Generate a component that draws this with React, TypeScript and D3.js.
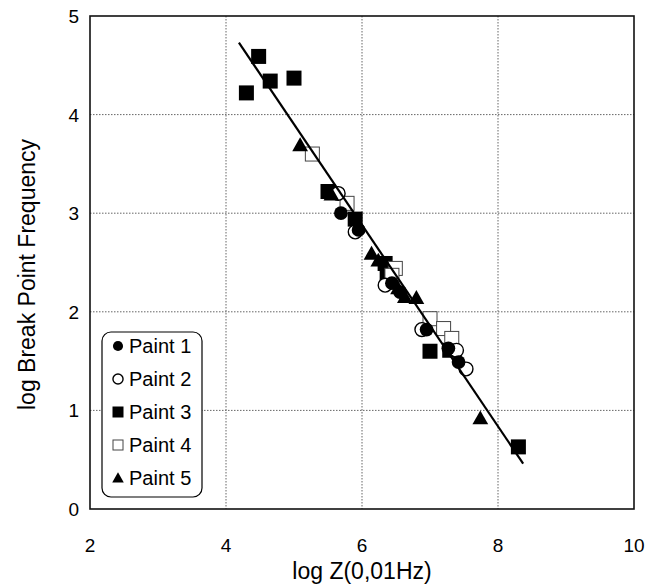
import React from 'react';
import * as d3 from 'd3';

// series values: [log Z, log break point frequency]
const paint1: [number, number][] = [
    [5.69, 3.0], [5.95, 2.83], [6.44, 2.29], [6.56, 2.2], [6.95, 1.82], [7.27, 1.63], [7.42, 1.49],
];
const paint2: [number, number][] = [
    [5.65, 3.2], [5.9, 2.81], [6.34, 2.27], [6.88, 1.82], [7.39, 1.61], [7.53, 1.42],
];
const paint3: [number, number][] = [
    [4.48, 4.59], [4.65, 4.34], [4.3, 4.22], [5.0, 4.37], [5.5, 3.22], [5.9, 2.94],
    [6.34, 2.49], [6.37, 2.39], [7.0, 1.6], [7.29, 1.61], [8.3, 0.63],
];
const paint4: [number, number][] = [
    [5.27, 3.6], [5.78, 3.1], [6.49, 2.44], [6.44, 2.37], [7.0, 1.93], [7.2, 1.83], [7.32, 1.73],
];
const paint5: [number, number][] = [
    [5.09, 3.69], [5.55, 3.19], [6.14, 2.59], [6.24, 2.52], [6.53, 2.24], [6.63, 2.15], [6.8, 2.14], [7.74, 0.92],
];
const fitLine: [number, number][] = [[4.19, 4.73], [8.37, 0.46]];

const xTicks = [2, 4, 6, 8, 10];
const yTicks = [0, 1, 2, 3, 4, 5];
const legendLabels = ['Paint 1', 'Paint 2', 'Paint 3', 'Paint 4', 'Paint 5'];

const W = 648;
const H = 585;
const left = 90, right = 634, top = 16, bottom = 509;
const font = 'Arial, "Liberation Sans", Helvetica, sans-serif';

type Kind = 'fcircle' | 'ocircle' | 'fsquare' | 'osquare' | 'triangle';

const Marker = ({ kind, x, y, s }: { kind: Kind; x: number; y: number; s: number }) => {
    const h = s / 2;
    if (kind === 'fcircle') return <circle cx={x} cy={y} r={h * 0.92} fill="#000" />;
    if (kind === 'ocircle') return <circle cx={x} cy={y} r={h * 0.92} fill="#fff" stroke="#000" strokeWidth={1.4} />;
    if (kind === 'fsquare') return <rect x={x - h} y={y - h} width={s} height={s} fill="#000" />;
    if (kind === 'osquare') return <rect x={x - h + 0.5} y={y - h + 0.5} width={s - 1} height={s - 1} fill="#fff" stroke="#444" strokeWidth={1} />;
    const path = d3.path();
    path.moveTo(x, y - h * 1.05);
    path.lineTo(x + h * 1.05, y + h * 0.8);
    path.lineTo(x - h * 1.05, y + h * 0.8);
    path.closePath();
    return <path d={path.toString()} fill="#000" />;
};

const App = () => {
    const xScale = d3.scaleLinear().domain([2, 10]).range([left, right]);
    const yScale = d3.scaleLinear().domain([0, 5]).range([bottom, top]);
    const line = d3.line<[number, number]>().x(d => xScale(d[0])).y(d => yScale(d[1]));

    const series: { kind: Kind; data: [number, number][] }[] = [
        { kind: 'fsquare', data: paint3 },
        { kind: 'osquare', data: paint4 },
        { kind: 'ocircle', data: paint2 },
        { kind: 'fcircle', data: paint1 },
        { kind: 'triangle', data: paint5 },
    ];
    const legendKinds: Kind[] = ['fcircle', 'ocircle', 'fsquare', 'osquare', 'triangle'];

    return (
        <svg width={W} height={H} style={{ position: 'absolute', left: 0, top: 0, background: '#fff' }} fontFamily={font}>
            <rect width={W} height={H} fill="#fff" />
            {/* grid */}
            {xTicks.slice(1, -1).map(t => (
                <line key={'gx' + t} x1={xScale(t)} x2={xScale(t)} y1={top} y2={bottom} stroke="#666" strokeWidth={1} strokeDasharray="1.5,1.5" />
            ))}
            {yTicks.slice(1, -1).map(t => (
                <line key={'gy' + t} x1={left} x2={right} y1={yScale(t)} y2={yScale(t)} stroke="#666" strokeWidth={1} strokeDasharray="1.5,1.5" />
            ))}
            {/* markers */}
            {series.map(s => s.data.map((d, i) => (
                <Marker key={s.kind + i} kind={s.kind} x={xScale(d[0])} y={yScale(d[1])} s={15} />
            )))}
            {/* fitted line */}
            <path d={line(fitLine) ?? ''} fill="none" stroke="#000" strokeWidth={2.2} />
            {/* frame */}
            <rect x={left} y={top} width={right - left} height={bottom - top} fill="none" stroke="#111" strokeWidth={1.6} />
            {/* tick labels */}
            {xTicks.map(t => (
                <text key={'tx' + t} x={xScale(t)} y={552} textAnchor="middle" fontSize={19}>{t}</text>
            ))}
            {yTicks.map(t => (
                <text key={'ty' + t} x={left - 11} y={yScale(t) + 7} textAnchor="end" fontSize={19}>{t}</text>
            ))}
            {/* axis titles */}
            <text x={(left + right) / 2} y={579} textAnchor="middle" fontSize={23}>log Z(0,01Hz)</text>
            <text transform={`translate(35,${(top + bottom) / 2 + 12}) rotate(-90)`} textAnchor="middle" fontSize={23}>log Break Point Frequency</text>
            {/* legend */}
            <g>
                <rect x={102} y={332} width={100} height={165} rx={9} fill="#fff" stroke="#000" strokeWidth={1.2} />
                {legendLabels.map((l, i) => (
                    <g key={l}>
                        <Marker kind={legendKinds[i]} x={118} y={346 + i * 33} s={11} />
                        <text x={129} y={353 + i * 33} fontSize={20}>{l}</text>
                    </g>
                ))}
            </g>
        </svg>
    );
};

export default App;
